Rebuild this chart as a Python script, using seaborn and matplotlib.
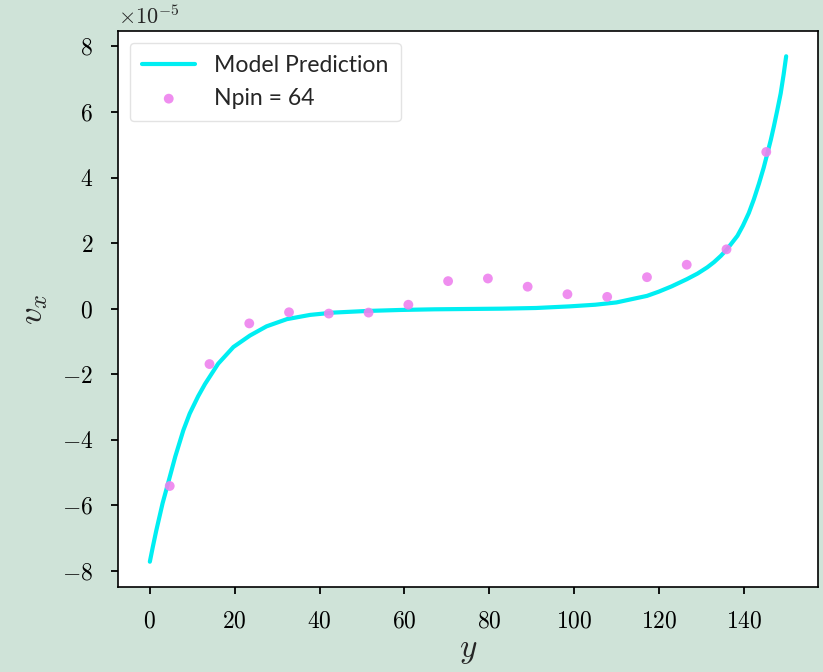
import matplotlib
matplotlib.use("Agg")
import matplotlib.pyplot as plt
from matplotlib.ticker import FuncFormatter
import seaborn as sns
import pandas as pd

# Model prediction curve (v_x in units of 1e-5)
model_y = [0, 0.7, 1.5, 3, 4.1, 6, 7.9, 9.4, 11.4, 13, 16.1, 19.7, 23.6, 27.5, 32.3,
           37.8, 43.3, 51.2, 59, 67, 75, 83, 91, 99, 105, 110, 117.2, 120, 123,
           126.6, 129.1, 131.4, 133, 134.6, 136.1, 138.5, 139.8, 141.2, 142.4,
           143.6, 144.7, 145.7, 146.4, 147.1, 147.9, 148.7, 149.4, 150]
model_vx = [-7.72, -7.27, -6.78, -5.94, -5.42, -4.51, -3.71, -3.20, -2.67, -2.30,
            -1.68, -1.17, -0.82, -0.54, -0.32, -0.19, -0.12, -0.07, -0.04, -0.02,
            -0.01, 0.00, 0.02, 0.07, 0.12, 0.19, 0.39, 0.52, 0.68, 0.90, 1.07,
            1.26, 1.42, 1.61, 1.82, 2.22, 2.53, 2.92, 3.34, 3.82, 4.30, 4.80,
            5.16, 5.56, 6.05, 6.56, 7.14, 7.70]

# Measured velocities for Npin = 64 (bin centres)
pin_y = [4.69, 14.06, 23.44, 32.81, 42.19, 51.56, 60.94, 70.31,
         79.69, 89.06, 98.44, 107.81, 117.19, 126.56, 135.94, 145.31]
pin_vx = [-5.41, -1.69, -0.45, -0.11, -0.15, -0.12, 0.12, 0.84,
          0.92, 0.67, 0.44, 0.36, 0.96, 1.34, 1.81, 4.78]

x_ticks = [0, 20, 40, 60, 80, 100, 120, 140]
y_ticks = [-8, -6, -4, -2, 0, 2, 4, 6, 8]

SCALE = 1e-5

model_df = pd.DataFrame({"y": model_y, "vx": [v * SCALE for v in model_vx]})
pin_df = pd.DataFrame({"y": pin_y, "vx": [v * SCALE for v in pin_vx]})

sns.set_style("ticks")
plt.rcParams.update({
    "mathtext.fontset": "cm",
    "font.family": ["Lato", "DejaVu Sans"],
    "axes.edgecolor": "black",
    "axes.linewidth": 1.2,
    "xtick.major.width": 1.3,
    "ytick.major.width": 1.3,
    "xtick.major.size": 5,
    "ytick.major.size": 5,
    "xtick.color": "black",
    "ytick.color": "black",
})

fig = plt.figure(figsize=(8.23, 6.72), dpi=100, facecolor="#cfe3d8")
ax = fig.add_axes([0.1434, 0.1265, 0.8505, 0.8274])
ax.set_facecolor("white")

sns.lineplot(data=model_df, x="y", y="vx", ax=ax, color="#00eef2", linewidth=3.0,
             label="Model Prediction", sort=False)
sns.scatterplot(data=pin_df, x="y", y="vx", ax=ax, color="violet", s=50,
                edgecolor="none", alpha=0.9, label="Npin = 64", zorder=3)

for side in ["top", "right", "left", "bottom"]:
    ax.spines[side].set_visible(True)
    ax.spines[side].set_color("black")

ax.set_xticks(x_ticks)
ax.set_yticks([v * SCALE for v in y_ticks])
ax.xaxis.set_major_formatter(FuncFormatter(lambda v, pos: f"${v:g}$"))
ax.yaxis.set_major_formatter(FuncFormatter(lambda v, pos: f"${round(v / SCALE):g}$"))
ax.tick_params(axis="x", labelsize=17, colors="black", pad=12)
ax.tick_params(axis="y", labelsize=17, colors="black", pad=13)

# Common exponent of the v_x axis
ax.text(0.0, 1.006, r"$\times10^{-5}$", transform=ax.transAxes,
        ha="left", va="bottom", fontsize=16)

ax.set_xlabel(r"$y$", fontsize=24, labelpad=3)
ax.set_ylabel(r"$v_x$", fontsize=25, labelpad=8.5)

leg = ax.legend(loc="upper left", fontsize=16.6, handlelength=2.3,
                frameon=True, fancybox=True, framealpha=0.8, borderpad=0.55)
leg.get_frame().set_edgecolor("#dddddd")

fig.savefig("out.png", dpi=100, facecolor=fig.get_facecolor())
